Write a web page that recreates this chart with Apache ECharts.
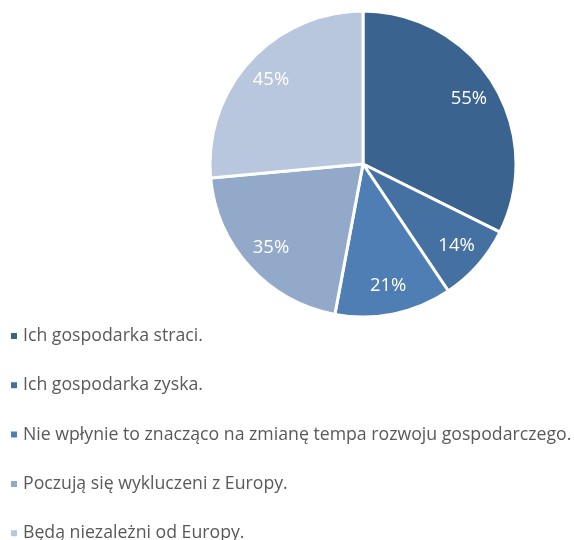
<!DOCTYPE html>
<html>
<head>
<meta charset="utf-8">
<script src="https://cdn.jsdelivr.net/npm/echarts@6/dist/echarts.min.js"></script>
<style>
  html, body { margin: 0; padding: 0; background: #fff; }
  #main { width: 574px; height: 540px; }
</style>
</head>
<body>
<div id="main"></div>
<script>
var categories = [
    'Ich gospodarka straci.',
    'Ich gospodarka zyska.',
    'Nie wpłynie to znacząco na zmianę tempa rozwoju gospodarczego.',
    'Poczują się wykluczeni z Europy.',
    'Będą niezależni od Europy.'
];
var values = [55, 14, 21, 35, 45];
var colors = ['#3b6390', '#4571a2', '#4f7eb5', '#93a9ca', '#b8c7dd'];

var pieData = categories.map(function (name, i) {
    return { name: name, value: values[i], itemStyle: { color: colors[i] } };
});

var myChart = echarts.init(document.getElementById('main'));
myChart.setOption({
    backgroundColor: '#fff',
    animation: false,
    legend: {
        orient: 'vertical',
        left: 9,
        top: 326,
        height: 260,
        padding: 0,
        itemWidth: 8,
        itemHeight: 8,
        itemGap: 29.3,
        icon: 'rect',
        data: categories,
        textStyle: {
            fontFamily: 'Open Sans',
            fontSize: 17.7,
            lineHeight: 20,
            color: '#595959'
        }
    },
    series: [{
        // właściwy wykres
        type: 'pie',
        center: [363, 164],
        radius: 153,
        startAngle: 90,
        data: pieData,
        label: { show: false },
        labelLine: { show: false },
        itemStyle: { borderColor: '#fff', borderWidth: 3 }
    }, {
        // tylko etykiety, ok. 0.8 promienia
        type: 'pie',
        silent: true,
        center: [363, 164],
        radius: [90, 153],
        startAngle: 90,
        data: categories.map(function (name, i) {
            return { name: name, value: values[i] };
        }),
        itemStyle: { color: 'transparent', borderWidth: 0 },
        label: {
            show: true,
            position: 'inside',
            formatter: '{c}%',
            color: '#fff',
            fontFamily: 'Open Sans',
            fontSize: 18.5
        },
        labelLine: { show: false }
    }]
});
</script>
</body>
</html>
